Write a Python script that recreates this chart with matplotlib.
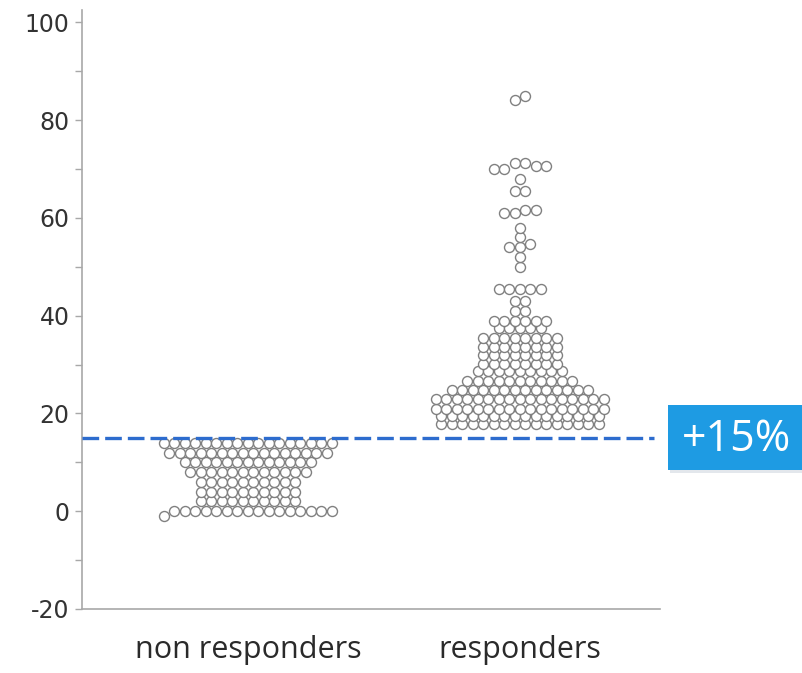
import numpy as np
import matplotlib
matplotlib.use("Agg")
import matplotlib.pyplot as plt
from matplotlib.patches import Rectangle

plt.rcParams["axes.unicode_minus"] = False

# ---- data ----
categories = ["non responders", "responders"]

nonresp_levels = [-1, 0, 2, 4, 6, 8, 10, 12, 14]
nonresp_counts = [1, 16, 10, 10, 10, 12, 13, 16, 17]

resp_levels = [17.8, 19.5, 21, 23, 24.7, 26.7, 28.7, 30.2, 31.9, 33.5, 35.4, 37.4, 39,
               41, 43, 45.5, 50, 52, 54, 54.7, 56, 58, 61, 61.5, 65.5, 68,
               70, 71.2, 70.5, 84, 85]
resp_counts = [16, 16, 17, 17, 14, 11, 9, 8, 8, 8, 8, 5, 6,
               2, 2, 5, 1, 1, 2, 1, 1, 1, 2, 2, 2, 1,
               2, 2, 2, 1, 1]

threshold = 15
threshold_label = "+15%"
y_ticks = [-20, 0, 20, 40, 60, 80, 100]

nonresp_values = np.repeat(nonresp_levels, nonresp_counts)
resp_values = np.repeat(resp_levels, resp_counts)

# ---- figure ----
W, H = 802, 673
fig = plt.figure(figsize=(W / 100, H / 100), dpi=100)
ax_left, ax_right = 82, 660
ax_top, ax_bottom = 10, 609
ax = fig.add_axes([ax_left / W, 1 - ax_bottom / H, (ax_right - ax_left) / W, (ax_bottom - ax_top) / H])
xlim = (-0.61, 1.515)
ylim = (-20, 102.5)
ax.set_xlim(*xlim)
ax.set_ylim(*ylim)

# Prism-style row layout: values close together share a row, spread horizontally
spacing_px = 10.5
dx = spacing_px * (xlim[1] - xlim[0]) / (ax_right - ax_left)
row_tol = 1.4


def row_layout(values, center):
    values = np.asarray(values, dtype=float)
    order = np.argsort(values, kind="stable")
    xs = np.zeros(len(values))
    rows, cur, start = [], [], None
    for i in order:
        if start is None or values[i] - start > row_tol:
            if cur:
                rows.append(cur)
            cur, start = [i], values[i]
        else:
            cur.append(i)
    if cur:
        rows.append(cur)
    for r in rows:
        r = sorted(r)  # keep data order inside a row
        n = len(r)
        for k, idx in enumerate(r):
            xs[idx] = center + (k - (n - 1) / 2) * dx
    return xs


for pos, vals in enumerate([nonresp_values, resp_values]):
    xs = row_layout(vals, pos)
    ax.scatter(xs, vals, s=7.2 ** 2, facecolors="white", edgecolors="#808080",
               linewidths=1.0, zorder=3)

for s in ["top", "right"]:
    ax.spines[s].set_visible(False)
for s in ["left", "bottom"]:
    ax.spines[s].set_color("#a8a8a8")
    ax.spines[s].set_linewidth(1.2)

ax.set_yticks(y_ticks)
ax.set_yticks(np.arange(-10, 100, 20), minor=True)
ax.tick_params(axis="y", which="both", direction="out", length=5, width=1,
               color="#a8a8a8", labelsize=17, labelcolor="#333333", pad=4)
ax.set_xticks(range(len(categories)))
ax.set_xticklabels(categories, family=["Open Sans", "DejaVu Sans"])
ax.tick_params(axis="x", length=0, pad=19, labelsize=22, labelcolor="#2a2a2a")

ax.axhline(threshold, xmin=0, xmax=0.99, color="#2d6cce", linewidth=2.4,
           linestyle=(0, (5, 1.8)), zorder=5, clip_on=False)

# label box with a soft shadow
fig.patches.append(Rectangle((670 / W, 1 - 473 / H), 0.2, 65 / H,
                             transform=fig.transFigure, facecolor="#e3e7ec",
                             edgecolor="none", zorder=9))
fig.patches.append(Rectangle((668 / W, 1 - 470 / H), 0.2, 65 / H,
                             transform=fig.transFigure, facecolor="#1e9be3",
                             edgecolor="none", zorder=10))
fig.text(737 / W, 1 - 440 / H, threshold_label, color="white", fontsize=31,
         family=["Open Sans", "DejaVu Sans"], ha="center", va="center", zorder=11)

fig.savefig("out.png", dpi=100)
